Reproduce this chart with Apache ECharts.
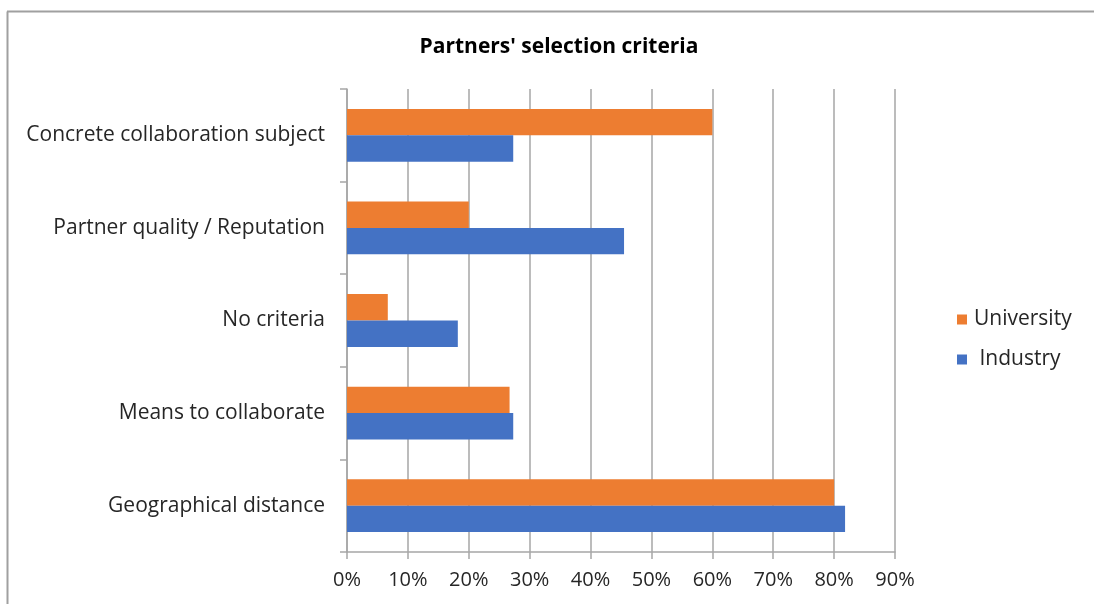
<!DOCTYPE html>
<html>
<head>
<meta charset="utf-8">
<script src="https://cdn.jsdelivr.net/npm/echarts@6/dist/echarts.min.js"></script>
<style>
html,body{margin:0;padding:0;background:#fff;}
#chart{width:1094px;height:604px;}
</style>
</head>
<body>
<div id="chart"></div>
<script>
const categories = ["Concrete collaboration subject", "Partner quality / Reputation", "No criteria", "Means to collaborate", "Geographical distance"];
const university = [60.0, 20.0, 6.7, 26.7, 80.0];
const industry = [27.3, 45.5, 18.2, 27.3, 81.8];
const seriesNames = ["University", "Industry"];
const titleText = "Partners' selection criteria";

const chart = echarts.init(document.getElementById('chart'));
const font = "'Open Sans', 'Noto Sans', sans-serif";
chart.setOption({
  animation: false,
  backgroundColor: '#fff',
  title: {
    text: titleText,
    left: 554, top: 32, textAlign: 'center',
    textStyle: {fontFamily: font, fontWeight: 'bold', fontSize: 21, color: '#000'}
  },
  legend: {
    orient: 'vertical',
    left: 952, top: 304,
    itemWidth: 10, itemHeight: 10, itemGap: 19,
    icon: 'rect',
    data: seriesNames,
    formatter: function (name) { return name === 'Industry' ? ' ' + name : name; },
    textStyle: {fontFamily: font, fontSize: 21, color: '#262626', padding: [0,0,0,2]}
  },
  grid: {left: 347, right: 199, top: 89, bottom: 52, containLabel: false},
  xAxis: {
    type: 'value', min: 0, max: 90, interval: 10,
    axisLine: {show: true, lineStyle: {color: '#a6a6a6', width: 1.5}},
    axisTick: {show: true, length: 7, lineStyle: {color: '#a6a6a6', width: 1.5}},
    splitLine: {show: true, lineStyle: {color: '#a6a6a6', width: 1.5}},
    axisLabel: {formatter: '{value}%', fontFamily: font, fontSize: 20, color: '#262626', margin: 18}
  },
  yAxis: {
    type: 'category', inverse: true, data: categories,
    axisLine: {show: true, lineStyle: {color: '#a6a6a6', width: 1.5}},
    axisTick: {show: true, length: 7, lineStyle: {color: '#a6a6a6', width: 1.5}},
    axisLabel: {fontFamily: font, fontSize: 21, color: '#262626', margin: 22}
  },
  series: [
    {name: seriesNames[0], type: 'bar', data: university, barGap: '0%', barCategoryGap: '43%',
     itemStyle: {color: '#ED7D31'}},
    {name: seriesNames[1], type: 'bar', data: industry, barGap: '0%', barCategoryGap: '43%',
     itemStyle: {color: '#4472C4'}}
  ],
  graphic: [
    {type: 'line', shape: {x1: 7.5, y1: 11.5, x2: 7.5, y2: 604}, style: {stroke: '#a0a0a0', lineWidth: 2}},
    {type: 'line', shape: {x1: 7, y1: 11.5, x2: 1094, y2: 11.5}, style: {stroke: '#a0a0a0', lineWidth: 2}}
  ]
});
</script>
</body>
</html>
